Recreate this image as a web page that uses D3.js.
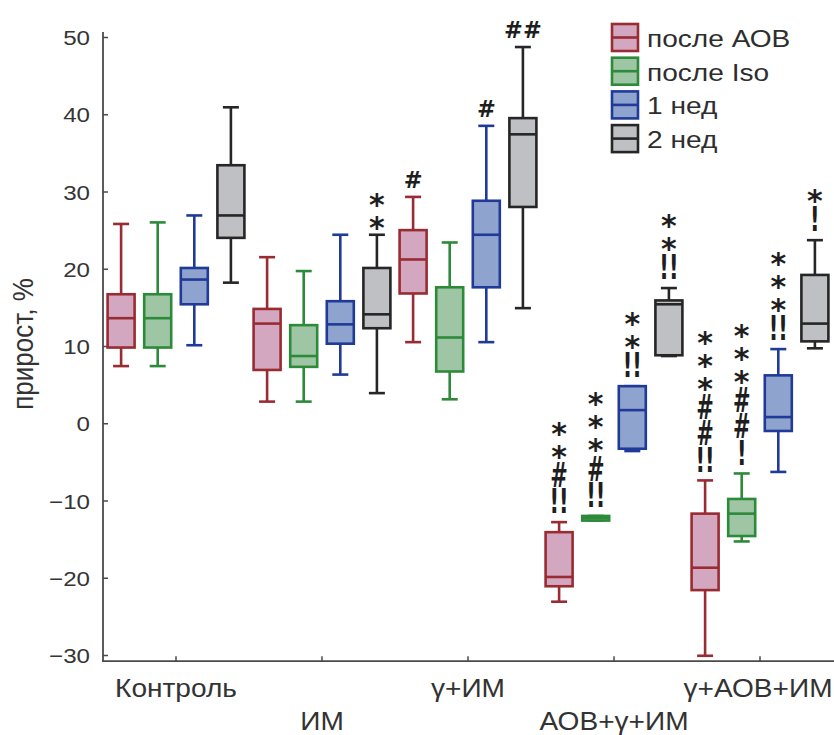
<!DOCTYPE html>
<html>
<head>
<meta charset="utf-8">
<script src="https://cdn.jsdelivr.net/npm/d3@7/dist/d3.min.js"></script>
<style>
  body { margin: 0; background: #fff; }
  text { font-family: "Liberation Sans", Arial, sans-serif; }
  .mark { font-family: "DejaVu Sans", sans-serif; font-weight: bold; fill: #1e1e1e; }
</style>
</head>
<body>
<div id="chart"></div>
<script>
// groups on the x axis
var groups = ["Контроль", "ИМ", "γ+ИМ", "АОВ+γ+ИМ", "γ+АОВ+ИМ"];
var seriesNames = ["после АОВ", "после Iso", "1 нед", "2 нед"];

// each row: [min, q1, median, q3, max], one per group
var afterAov = [
  [7.4, 9.8, 13.6, 16.7, 25.8],
  [2.8, 6.9, 12.9, 14.8, 21.5],
  [10.5, 16.8, 21.2, 25.0, 29.3],
  [-23.1, -21.1, -19.9, -14.1, -12.8],
  [-30.1, -21.6, -18.7, -11.7, -7.4]
];
var afterIso = [
  [7.4, 9.8, 13.6, 16.7, 26.0],
  [2.8, 7.3, 8.7, 12.7, 19.7],
  [3.1, 6.7, 11.1, 17.6, 23.4],
  [-12.6, -12.6, -12.3, -12.0, -12.0],
  [-15.3, -14.6, -11.7, -9.8, -6.5]
];
var week1 = [
  [10.1, 15.4, 18.6, 20.1, 26.9],
  [6.3, 10.3, 12.8, 15.8, 24.4],
  [10.5, 17.6, 24.4, 28.8, 38.5],
  [-3.6, -3.3, 1.7, 4.8, 4.8],
  [-6.3, -1.0, 0.8, 6.2, 9.6]
];
var week2 = [
  [18.2, 24.0, 26.9, 33.4, 40.9],
  [3.9, 12.3, 14.1, 20.1, 24.4],
  [14.9, 28.0, 37.4, 39.5, 48.7],
  [8.7, 8.8, 15.4, 15.9, 17.5],
  [9.7, 10.6, 12.9, 19.2, 23.7]
];

// significance marks above each box, top line first
var marksAov = [[], [], ["#"], ["*", "*", "#", "!!"], ["*", "*", "*", "#", "#", "!!"]];
var marksIso = [[], [], [], ["*", "*", "*", "#", "!!"], ["*", "*", "*", "#", "#", "!"]];
var marksWeek1 = [[], [], ["#"], ["*", "*", "!!"], ["*", "*", "*", "!!"]];
var marksWeek2 = [[], ["*", "*"], ["##"], ["*", "*", "!!"], ["*", "!"]];

var yTicks = [-30, -20, -10, 0, 10, 20, 30, 40, 50];

var strokes = ["#992b33", "#2d8a3a", "#1f3a98", "#262626"];
var fills = ["#d4a7c0", "#9ec6a4", "#8fa3cf", "#bfc0c3"];

var allStats = [afterAov, afterIso, week1, week2];
var allMarks = [marksAov, marksIso, marksWeek1, marksWeek2];

var svgWidth = 834, svgHeight = 735;
var svg = d3.select("#chart").append("svg")
  .attr("width", svgWidth)
  .attr("height", svgHeight);

var x = d3.scaleBand().domain(groups).range([103, 833]);
var y = d3.scaleLinear().domain([-30, 50]).range([655, 37]);

var axisColor = "#4a4a4a";
var boxW = 27, capW = 16, step = 36.6;

// text drawn a bit wider, like the original picture
function wideText(parent, txt, tx, ty, size, sx, anchor) {
  return parent.append("text")
    .attr("transform", `translate(${tx},${ty}) scale(${sx},1)`)
    .attr("text-anchor", anchor || "start")
    .style("font-size", size + "px")
    .text(txt);
}

// left axis
var leftAxis = d3.axisLeft(y).tickValues(yTicks).tickSizeInner(-5).tickSizeOuter(0).tickPadding(0);
var gy = svg.append("g").attr("transform", "translate(103,0)").call(leftAxis);
gy.select(".domain").remove();
gy.selectAll(".tick line").attr("stroke", axisColor).attr("stroke-width", 1.5);
gy.selectAll(".tick text")
  .attr("x", null).attr("dy", null)
  .attr("transform", "translate(-13,7.5) scale(1.15,1)")
  .style("font-size", "21px")
  .style("font-family", "Liberation Sans, Arial, sans-serif")
  .attr("fill", "#353535");

// bottom axis
var bottomAxis = d3.axisBottom(x).tickSizeInner(-5).tickSizeOuter(0).tickFormat("");
var gx = svg.append("g").attr("transform", `translate(0,${y(-30.8)})`).call(bottomAxis);
gx.select(".domain").remove();
gx.selectAll(".tick line").attr("stroke", axisColor).attr("stroke-width", 1.5);

svg.append("line")
  .attr("x1", 103).attr("x2", 103)
  .attr("y1", y(50.65)).attr("y2", y(-30.8))
  .attr("stroke", axisColor).attr("stroke-width", 1.8);
svg.append("line")
  .attr("x1", 102).attr("x2", 834)
  .attr("y1", y(-30.8)).attr("y2", y(-30.8))
  .attr("stroke", axisColor).attr("stroke-width", 1.8);

// staggered group labels
groups.forEach(function(gname, i) {
  var cx = x(gname) + x.bandwidth() / 2;
  if (i === groups.length - 1) cx -= 2;
  wideText(svg, gname, cx, i % 2 === 0 ? 697 : 730, 26, 1.08, "middle").attr("fill", "#333");
});

// y label
svg.append("text")
  .attr("transform", "translate(33,344) rotate(-90) scale(1,1.12)")
  .attr("text-anchor", "middle")
  .style("font-size", "26px")
  .attr("fill", "#333")
  .text("прирост, %");

// boxes
var plot = svg.append("g");
allStats.forEach(function(stats, si) {
  stats.forEach(function(d, gi) {
    var cx = x(groups[gi]) + x.bandwidth() / 2 + (si - 1.5) * step;
    var g = plot.append("g")
      .attr("stroke", strokes[si])
      .attr("stroke-width", 2.6)
      .attr("fill", "none");
    g.append("line").attr("x1", cx).attr("x2", cx).attr("y1", y(d[0])).attr("y2", y(d[1]));
    g.append("line").attr("x1", cx).attr("x2", cx).attr("y1", y(d[3])).attr("y2", y(d[4]));
    g.append("line").attr("x1", cx - capW / 2).attr("x2", cx + capW / 2).attr("y1", y(d[0])).attr("y2", y(d[0]));
    g.append("line").attr("x1", cx - capW / 2).attr("x2", cx + capW / 2).attr("y1", y(d[4])).attr("y2", y(d[4]));
    g.append("rect")
      .attr("x", cx - boxW / 2)
      .attr("y", y(d[3]))
      .attr("width", boxW)
      .attr("height", Math.max(y(d[1]) - y(d[3]), 1))
      .attr("fill", fills[si]);
    g.append("line").attr("x1", cx - boxW / 2).attr("x2", cx + boxW / 2).attr("y1", y(d[2])).attr("y2", y(d[2]));

    // marks stacked from the bottom up
    var lines = allMarks[si][gi];
    if (!lines.length) return;
    var tall = gi >= 3;
    var last = lines[lines.length - 1];
    var base = y(d[4]) - (last.indexOf("*") >= 0 ? 2 : 8);
    for (var k = lines.length - 1; k >= 0; k--) {
      var line = lines[k];
      if (line.indexOf("*") >= 0) {
        var c = base - 11.5;
        plot.append("text").attr("class", "mark")
          .attr("x", cx).attr("y", c + 17)
          .attr("text-anchor", "middle")
          .style("font-size", "30px")
          .text(line);
        base -= 23;
      } else {
        var sx = tall ? 0.7 : 0.75;
        var sy = tall ? 1.15 : 0.78;
        var h = tall ? (line.indexOf("!") >= 0 ? 27 : 26) : 19;
        var c2 = base - h / 2;
        plot.append("text").attr("class", "mark")
          .attr("transform", `translate(${cx},${c2 + 0.365 * 30 * sy}) scale(${sx},${sy})`)
          .attr("text-anchor", "middle")
          .style("font-size", "30px")
          .text(line);
        base -= h;
      }
    }
  });
});

// legend
var legend = svg.append("g");
seriesNames.forEach(function(name, i) {
  var by = 47 + i * 33.7;
  legend.append("rect")
    .attr("x", 612).attr("y", by - 23)
    .attr("width", 26).attr("height", 27)
    .attr("fill", fills[i]).attr("stroke", strokes[i]).attr("stroke-width", 2.6);
  legend.append("line")
    .attr("x1", 612).attr("x2", 638)
    .attr("y1", by - 9.5).attr("y2", by - 9.5)
    .attr("stroke", strokes[i]).attr("stroke-width", 2.6);
  wideText(legend, name, 647, by, 24, 1.17).attr("fill", "#2e2e2e");
});
</script>
</body>
</html>
